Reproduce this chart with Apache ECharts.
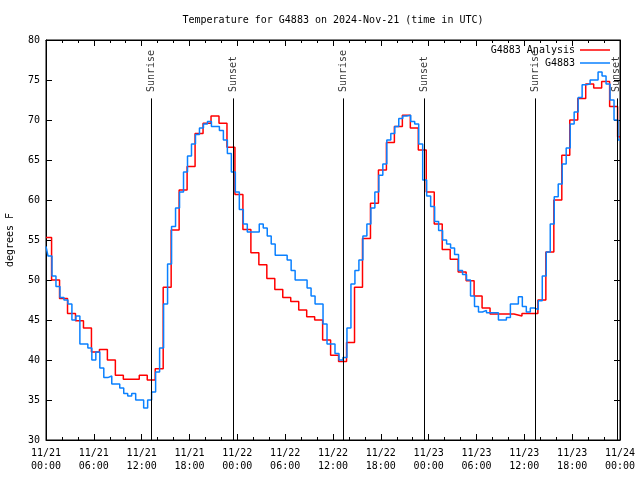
<!DOCTYPE html>
<html><head><meta charset="utf-8">
<script src="https://cdn.jsdelivr.net/npm/echarts@6/dist/echarts.min.js"></script>
<style>html,body{margin:0;padding:0;background:#fff}#c{width:640px;height:480px}</style>
</head><body><div id="c"></div>
<script>
const titleText = 'Temperature for G4883 on 2024-Nov-21 (time in UTC)';
const xTickLabels = ['11/21\n00:00','11/21\n06:00','11/21\n12:00','11/21\n18:00',
  '11/22\n00:00','11/22\n06:00','11/22\n12:00','11/22\n18:00',
  '11/23\n00:00','11/23\n06:00','11/23\n12:00','11/23\n18:00','11/24\n00:00'];
// hours since 11/21 00:00 UTC
const sunriseHours = [13.25, 37.3, 61.4];
const sunsetHours = [23.5, 47.47, 71.6];
// Analysis (hourly steps, value for hour h starts at h-0.3)
const redValues = [55.3,50.0,47.7,45.8,44.9,44.0,41.0,41.3,40.0,38.1,37.6,37.6,38.1,37.5,38.9,49.1,
  56.25,61.25,64.2,68.3,69.6,70.5,69.6,66.6,60.7,56.3,53.4,51.9,50.2,48.8,47.8,47.3,46.25,45.4,45.0,42.5,
  40.6,39.8,42.2,49.1,55.2,59.6,63.75,67.2,69.2,70.6,69.0,66.25,61.0,57.0,53.8,52.6,51.0,49.9,48.0,46.5,
  45.75,45.75,45.75,45.5,45.8,45.8,47.5,53.5,60.0,65.6,70.0,72.7,74.5,74.0,74.8,71.7,67.9];
// Observations every half hour
const blueValues = [54.2,53,50.5,49.2,47.8,47.5,47,45,45.5,42,42,41.5,40,41,39,37.8,38,37,37,36.5,
  35.8,35.5,35.8,35,35,34,35,36,38.5,41.5,47,52,56.7,59,61,63.5,65.5,67,68.2,69,
  69.5,69.8,69.2,69.2,68.7,67.5,65.8,63.5,61,58.8,57,56,56,56,57,56.5,55.5,54.5,53.1,53.1,
  53.1,52.5,51.2,50,50,50,49,48,47,47,44.5,42,42,40.8,40,40.3,44,49.5,51.2,52.5,
  55.5,57,59,61,63.1,64.5,67.5,68.3,69.2,70.2,70.5,70.6,69.8,69.5,67,62.5,60.5,59.2,57.3,56.2,
  55,54.5,54,53.2,51.2,50.7,50,48,46.7,46,46.2,45.9,45.9,45.9,45,45,45.3,47,47,47.9,
  46.7,46,46.5,46.3,47.4,50.5,53.5,57,60.4,62,64.5,66.5,69.5,71,72.8,74.4,74.5,75,75,76,
  75.5,74.5,72.5,70,67.5];

const FONT = 'DejaVu Sans Mono';
const redData = redValues.map((v, h) => [h === 0 ? 0 : h - 0.3, v]);
redData.push([72, redValues[redValues.length - 1]]);
const blueData = blueValues.map((v, i) => [i * 0.5, v]);

const sunLabels = sunriseHours.map(h => ({name: 'Sunrise', value: [h, 73.5]}))
  .concat(sunsetHours.map(h => ({name: 'Sunset', value: [h, 73.5]})));
const sunLines = sunriseHours.concat(sunsetHours).map(h => [{coord: [h, 30]}, {coord: [h, 72.7]}]);

function xAxisDef(pos, showLabel) {
  return {
    type: 'value', min: 0, max: 72, interval: 6, position: pos,
    axisLine: {show: true, onZero: false, lineStyle: {color: '#000', width: 1}},
    axisTick: {show: true, inside: true, length: 6, lineStyle: {color: '#000'}},
    minorTick: {show: true, splitNumber: 3, length: 3, lineStyle: {color: '#000'}},
    splitLine: {show: false}, minorSplitLine: {show: false},
    axisLabel: {show: showLabel, fontFamily: FONT, fontSize: 10, color: '#000', lineHeight: 13, margin: 7,
      formatter: v => xTickLabels[Math.round(v / 6)]}
  };
}
function yAxisDef(pos, showLabel) {
  const a = {
    type: 'value', min: 30, max: 80, interval: 5, position: pos,
    axisLine: {show: true, onZero: false, lineStyle: {color: '#000', width: 1}},
    axisTick: {show: true, inside: true, length: 6, lineStyle: {color: '#000'}},
    splitLine: {show: false},
    axisLabel: {show: showLabel, fontFamily: FONT, fontSize: 10, color: '#000', margin: 6}
  };
  if (showLabel) {
    a.name = 'degrees F'; a.nameLocation = 'middle'; a.nameGap = 31;
    a.nameTextStyle = {fontFamily: FONT, fontSize: 10, color: '#000'};
  }
  return a;
}

const LEG_ICON = 'path://M0,0H30V1.5H0Z';
const chart = echarts.init(document.getElementById('c'));
chart.setOption({
  animation: false,
  backgroundColor: '#fff',
  title: {text: titleText, left: 333, textAlign: 'center', top: 15, padding: 0,
    textStyle: {fontFamily: FONT, fontSize: 10, fontWeight: 'normal', color: '#000'}},
  legend: {data: [{name: 'G4883 Analysis', icon: LEG_ICON}, {name: 'G4883', icon: LEG_ICON}],
    orient: 'vertical', right: 30, top: 45, align: 'right', padding: 0,
    itemWidth: 30, itemHeight: 10, itemGap: 3, selectedMode: false,
    textStyle: {fontFamily: FONT, fontSize: 10, color: '#000'}},
  grid: {left: 46, right: 20, top: 40, bottom: 40, show: true, borderColor: '#000', borderWidth: 1,
    containLabel: false, outerBoundsMode: 'none'},
  xAxis: [xAxisDef('bottom', true), xAxisDef('top', false)],
  yAxis: [yAxisDef('left', true), yAxisDef('right', false)],
  series: [
    {name: 'G4883 Analysis', type: 'line', step: 'end', data: redData, symbol: 'none',
      lineStyle: {color: '#ff0000', width: 1.5}, itemStyle: {color: '#ff0000'}, z: 2},
    {name: 'G4883', type: 'line', step: 'middle', data: blueData, symbol: 'none',
      lineStyle: {color: '#0a80ff', width: 1.5}, itemStyle: {color: '#0a80ff'}, z: 3},
    {name: 'sun', type: 'scatter', data: sunLabels, symbolSize: 1, itemStyle: {color: 'rgba(0,0,0,0)'}, z: 4,
      label: {show: true, position: 'inside', formatter: '{b}', rotate: 90, align: 'left', verticalAlign: 'middle',
        fontFamily: FONT, fontSize: 10, color: '#000'},
      markLine: {silent: true, symbol: ['none', 'none'], data: sunLines,
        lineStyle: {color: '#000', width: 1, type: 'solid'}, label: {show: false}}}
  ]
});
</script>
</body></html>
